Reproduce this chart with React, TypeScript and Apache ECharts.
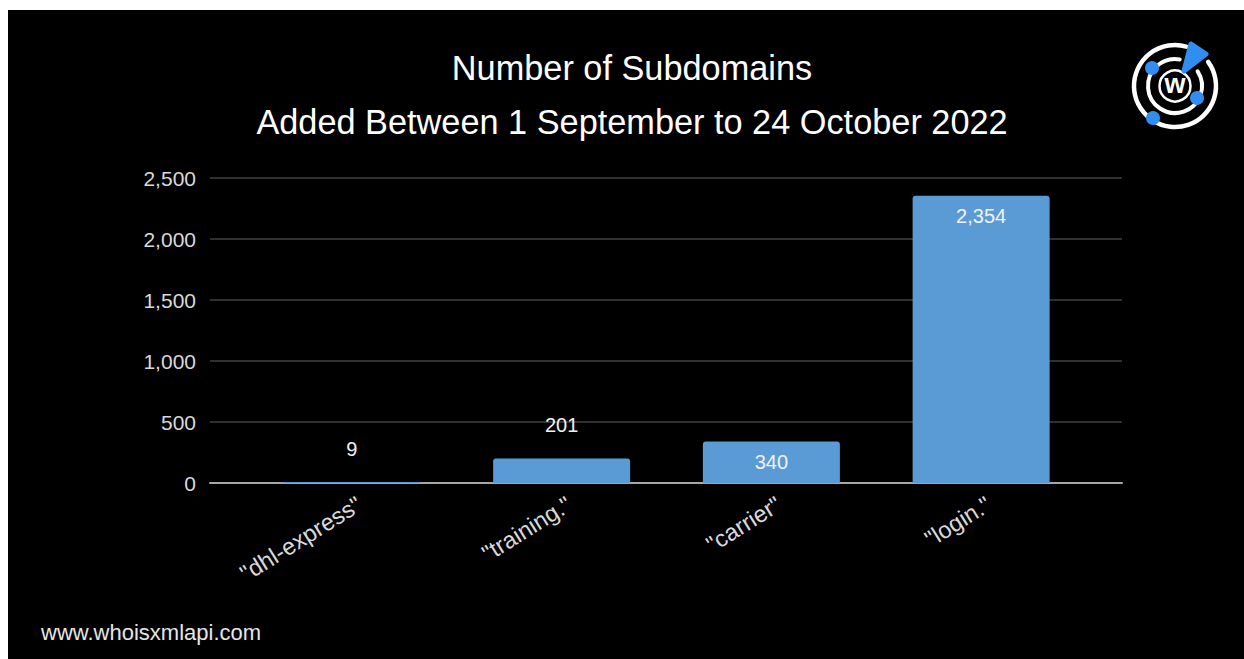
import React, { useEffect, useRef } from "react";
import * as echarts from "echarts";

const categories = ['"dhl-express"', '"training."', '"carrier"', '"login."'];
const values = [9, 201, 340, 2354];
const yMin = 0;
const yMax = 2500;
const yInterval = 500;
const titleLines = ["Number of Subdomains", "Added Between 1 September to 24 October 2022"];
const footerText = "www.whoisxmlapi.com";

const FONT = "'Liberation Sans', Arial, Helvetica, sans-serif";
const fmt = (v: number) => Number(v).toLocaleString("en-US");
const deg = (d: number) => (d * Math.PI) / 180;

export default function App() {
  const ref = useRef<HTMLDivElement>(null);
  useEffect(() => {
    if (!ref.current) return;
    const chart = echarts.init(ref.current, null, { renderer: "svg" });
    const gridTop = 168;
    const gridHeight = 305;
    const blue = "#2f8ef0";
    const cx = 1167;
    const cy = 76;
    const option: any = {
      animation: false,
      backgroundColor: "#000",
      grid: [
        { left: 202, width: 912, top: gridTop, height: gridHeight },
        { left: 239, width: 839, top: gridTop, height: gridHeight },
      ],
      xAxis: [
        {
          gridIndex: 0,
          type: "value",
          min: 0,
          max: 1,
          axisLine: { show: true, lineStyle: { color: "#a6a6a6", width: 2 } },
          axisTick: { show: false },
          axisLabel: { show: false },
          splitLine: { show: false },
        },
        {
          gridIndex: 1,
          type: "category",
          data: categories,
          axisLine: { show: false },
          axisTick: { show: false },
          axisLabel: {
            rotate: 32,
            margin: 24,
            color: "#d9d9d9",
            fontSize: 23.5,
            fontFamily: FONT,
            interval: 0,
            padding: [0, -9, 0, 0],
          },
        },
      ],
      yAxis: [
        {
          gridIndex: 0,
          type: "value",
          min: yMin,
          max: yMax,
          interval: yInterval,
          axisLine: { show: false },
          axisTick: { show: false },
          axisLabel: {
            color: "#d9d9d9",
            fontSize: 21,
            fontFamily: FONT,
            margin: 14,
            formatter: (v: number) => fmt(v),
          },
          splitLine: { show: true, lineStyle: { color: "#404040", width: 1.5 } },
        },
        {
          gridIndex: 1,
          type: "value",
          min: yMin,
          max: yMax,
          interval: yInterval,
          show: false,
          splitLine: { show: false },
        },
      ],
      series: [
        {
          type: "bar",
          xAxisIndex: 1,
          yAxisIndex: 1,
          barWidth: 137,
          z: 3,
          itemStyle: { color: "#5B9BD5", borderRadius: [3, 3, 0, 0] },
          data: values.map((v) => ({
            value: v,
            label: v >= 300 ? { position: "insideTop", distance: 10 } : { position: "top", distance: 23 },
          })),
          label: {
            show: true,
            color: "#f2f2f2",
            fontSize: 20,
            fontFamily: FONT,
            formatter: (p: any) => fmt(p.value),
          },
        },
      ],
      graphic: [
        {
          type: "text",
          x: 624,
          y: 58,
          style: { text: titleLines[0], fill: "#fff", font: `34.3px ${FONT}`, textAlign: "center", textVerticalAlign: "middle" },
        },
        {
          type: "text",
          x: 624,
          y: 112,
          style: { text: titleLines[1], fill: "#fff", font: `34.3px ${FONT}`, textAlign: "center", textVerticalAlign: "middle" },
        },
        {
          type: "text",
          x: 33,
          y: 622,
          style: { text: footerText, fill: "#e6e6e6", font: `22px ${FONT}`, textAlign: "left", textVerticalAlign: "middle" },
        },
        // logo
        {
          type: "arc",
          shape: { cx, cy, r: 41, startAngle: deg(-36), endAngle: deg(286), clockwise: true },
          style: { stroke: "#fff", lineWidth: 4.5, fill: "none", lineCap: "round" },
        },
        {
          type: "arc",
          shape: { cx, cy, r: 27, startAngle: deg(-33), endAngle: deg(280), clockwise: true },
          style: { stroke: "#fff", lineWidth: 4, fill: "none", lineCap: "round" },
        },
        {
          type: "circle",
          shape: { cx, cy, r: 15.5 },
          style: { stroke: "#fff", lineWidth: 2.5, fill: "#000" },
        },
        {
          type: "text",
          x: cx,
          y: cy - 2,
          style: { text: "w", fill: "#fff", font: `bold 27px ${FONT}`, textAlign: "center", textVerticalAlign: "middle" },
        },
        { type: "circle", shape: { cx: 1144, cy: 58, r: 7 }, style: { fill: blue } },
        { type: "circle", shape: { cx: 1189, cy: 88, r: 7 }, style: { fill: blue } },
        { type: "circle", shape: { cx: 1145, cy: 108, r: 7 }, style: { fill: blue } },
        {
          type: "polygon",
          shape: { points: [[1183, 34], [1198, 44], [1176, 61]] },
          style: { fill: blue, stroke: blue, lineWidth: 5, lineJoin: "round" },
        },
      ],
    };
    chart.setOption(option);
    return () => chart.dispose();
  }, []);
  return (
    <div
      ref={ref}
      style={{ position: "absolute", left: 8, top: 10, width: 1236, height: 649, background: "#000" }}
    />
  );
}
